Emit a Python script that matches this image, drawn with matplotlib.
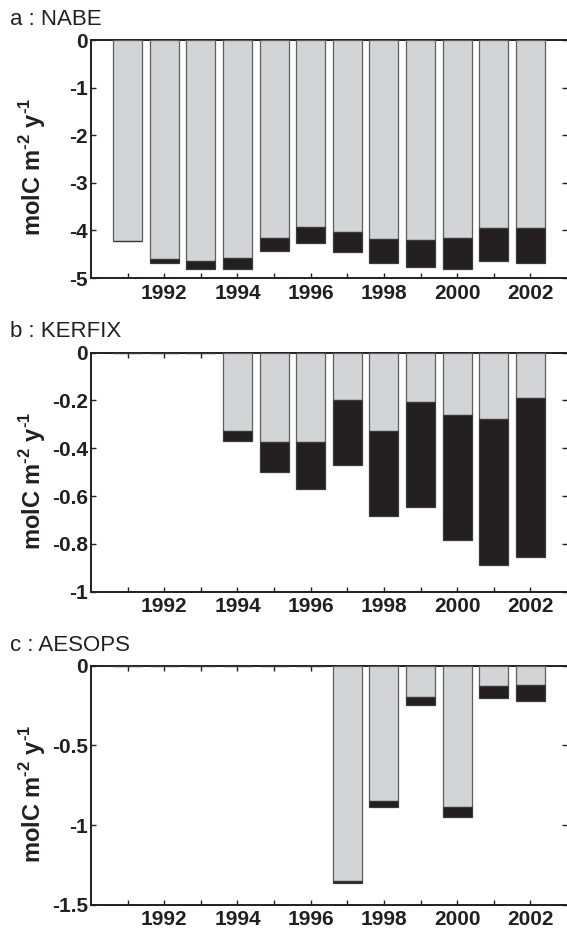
import matplotlib
matplotlib.use("Agg")
import matplotlib.pyplot as plt
from matplotlib.ticker import FuncFormatter

plt.rcParams['font.family'] = ['Liberation Sans', 'DejaVu Sans']
plt.rcParams['axes.unicode_minus'] = False
plt.rcParams['mathtext.fontset'] = 'custom'
plt.rcParams['mathtext.rm'] = 'Liberation Sans'
plt.rcParams['mathtext.bf'] = 'Liberation Sans:bold'

years = [1991, 1992, 1993, 1994, 1995, 1996, 1997, 1998, 1999, 2000, 2001, 2002]

# panel a : NABE  (gray component depth, total depth)
nabe_gray = [-4.22, -4.60, -4.65, -4.58, -4.16, -3.93, -4.04, -4.19, -4.20, -4.17, -3.94, -3.96]
nabe_total = [-4.22, -4.68, -4.82, -4.82, -4.44, -4.27, -4.46, -4.69, -4.76, -4.82, -4.64, -4.69]

# panel b : KERFIX
kerfix_gray = [0, 0, 0, -0.328, -0.375, -0.372, -0.199, -0.328, -0.208, -0.261, -0.278, -0.190]
kerfix_total = [0, 0, 0, -0.368, -0.499, -0.570, -0.469, -0.682, -0.647, -0.782, -0.890, -0.854]

# panel c : AESOPS
aesops_gray = [0, 0, 0, 0, 0, 0, -1.349, -0.851, -0.195, -0.889, -0.130, -0.123]
aesops_total = [0, 0, 0, 0, 0, 0, -1.362, -0.887, -0.245, -0.952, -0.203, -0.220]

titles = ["a : NABE", "b : KERFIX", "c : AESOPS"]
yticks = [[0, -1, -2, -3, -4, -5],
          [0, -0.2, -0.4, -0.6, -0.8, -1],
          [0, -0.5, -1, -1.5]]
ylims = [(-5, 0), (-1, 0), (-1.5, 0)]
ylabel = 'molC m$^{\\mathbf{\u20102}}$ y$^{\\mathbf{\u20101}}$'
xlabels = [str(y) if y % 2 == 0 else '' for y in years]

grays = [nabe_gray, kerfix_gray, aesops_gray]
totals = [nabe_total, kerfix_total, aesops_total]

W, H = 567, 930
fig = plt.figure(figsize=(W / 100, H / 100), dpi=100)

# axes pixel positions (top, bottom)
panel_px = [(40, 278), (352.7, 591.7), (665.7, 904.7)]
left_px, right_px = 91, 567
title_base_px = [25, 337, 651]

for i in range(3):
    top, bot = panel_px[i]
    ax = fig.add_axes([left_px / W, 1 - bot / H, (right_px - left_px) / W, (bot - top) / H])
    g = grays[i]
    t = totals[i]
    blk = [tt - gg for tt, gg in zip(t, g)]
    ax.bar(years, g, width=0.79, color='#d3d4d6', edgecolor='#5e5e5e', linewidth=0.9, zorder=3)
    ax.bar(years, blk, bottom=g, width=0.79, color='#231f20', edgecolor='#3a3a3a', linewidth=0.9, zorder=3)
    ax.set_xlim(1990, 2003)
    ax.set_ylim(*ylims[i])
    ax.set_yticks(yticks[i])
    ax.yaxis.set_major_formatter(FuncFormatter(lambda v, p: '%g' % v))
    ax.set_xticks(years)
    ax.set_xticklabels(xlabels)
    for s in ['left', 'bottom', 'top']:
        ax.spines[s].set_linewidth(1.4)
        ax.spines[s].set_color('#231f20')
    ax.spines['right'].set_visible(False)
    ax.tick_params(axis='x', direction='in', length=3.5, width=1.0, top=True, bottom=True,
                   pad=4, labelsize=15, color='#231f20')
    ax.tick_params(axis='y', direction='in', length=3.5, width=1.0, left=True, right=True,
                   pad=2, labelsize=15, color='#231f20')
    for lab in ax.get_xticklabels() + ax.get_yticklabels():
        lab.set_fontweight('bold')
        lab.set_color('#231f20')
    ax.set_ylabel(ylabel, fontsize=17, fontweight='bold', color='#231f20')
    ax.yaxis.set_label_coords(-0.09, 0.466)
    fig.text(10 / W, 1 - title_base_px[i] / H, titles[i], fontsize=16, va='baseline',
             ha='left', color='#231f20')

fig.savefig('out.png', dpi=100)
